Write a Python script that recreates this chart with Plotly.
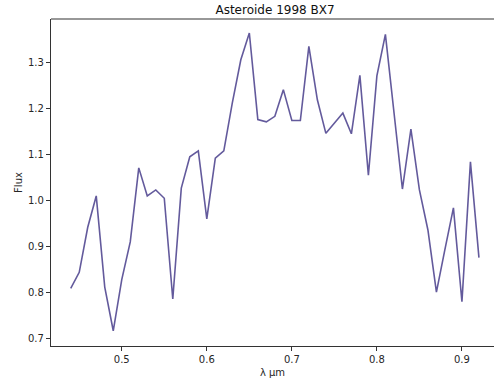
import plotly.graph_objects as go

# Reflectance spectrum of asteroid 1998 BX7
wavelength = [0.44, 0.45, 0.46, 0.47, 0.48, 0.49, 0.50, 0.51, 0.52, 0.53,
              0.54, 0.55, 0.56, 0.57, 0.58, 0.59, 0.60, 0.61, 0.62, 0.63,
              0.64, 0.65, 0.66, 0.67, 0.68, 0.69, 0.70, 0.71, 0.72, 0.73,
              0.74, 0.75, 0.76, 0.77, 0.78, 0.79, 0.80, 0.81, 0.82, 0.83,
              0.84, 0.85, 0.86, 0.87, 0.88, 0.89, 0.90, 0.91, 0.92]
flux = [0.809, 0.844, 0.942, 1.010, 0.812, 0.717, 0.828, 0.910, 1.071, 1.010,
        1.023, 1.005, 0.786, 1.027, 1.095, 1.108, 0.960, 1.092, 1.108, 1.212,
        1.306, 1.364, 1.176, 1.171, 1.183, 1.241, 1.174, 1.174, 1.335, 1.219,
        1.146, 1.168, 1.190, 1.145, 1.272, 1.055, 1.271, 1.361, 1.193, 1.025,
        1.155, 1.023, 0.936, 0.801, 0.894, 0.984, 0.780, 1.084, 0.876]

x_ticks = [0.5, 0.6, 0.7, 0.8, 0.9]
y_ticks = [0.7, 0.8, 0.9, 1.0, 1.1, 1.2, 1.3]

font = "DejaVu Sans, sans-serif"
ink = "#262626"
spine = "#333333"

fig = go.Figure(
    go.Scatter(
        x=wavelength, y=flux, mode="lines",
        line=dict(color="rgba(72,61,139,0.85)", width=1.6),
        hoverinfo="x+y",
    )
)

fig.update_layout(
    width=494, height=381,
    margin=dict(l=51, r=0, t=19, b=35),
    paper_bgcolor="white", plot_bgcolor="white",
    showlegend=False,
    font=dict(family=font, size=10, color=ink),
    title=dict(
        text="Asteroide 1998 BX7",
        font=dict(family=font, size=12, color="#111111"),
        xref="container", x=275 / 494, xanchor="center",
        yref="container", y=1 - 10 / 381, yanchor="middle",
    ),
)

fig.update_xaxes(
    range=[0.4168, 0.9377],
    tickvals=x_ticks, ticktext=[f"{v:.1f}" for v in x_ticks],
    ticks="outside", ticklen=4, tickwidth=1, tickcolor=spine,
    showline=True, linecolor=spine, linewidth=1.2,
    mirror=False, showgrid=False, zeroline=False,
    title=dict(text="λ µm", font=dict(family=font, size=10, color=ink), standoff=4),
)
fig.update_yaxes(
    range=[0.6839, 1.3945],
    tickvals=y_ticks, ticktext=[f"{v:.1f}" for v in y_ticks],
    ticks="outside", ticklen=4, tickwidth=1, tickcolor=spine,
    showline=True, linecolor=spine, linewidth=1.2,
    showgrid=False, zeroline=False,
    title=dict(text="Flux", font=dict(family=font, size=10, color=ink), standoff=3),
)

# top spine of the axes frame
fig.add_shape(type="line", xref="paper", yref="paper", x0=0, x1=1, y0=1, y1=1,
              line=dict(color=spine, width=1.2))

fig.write_html("out.html")
